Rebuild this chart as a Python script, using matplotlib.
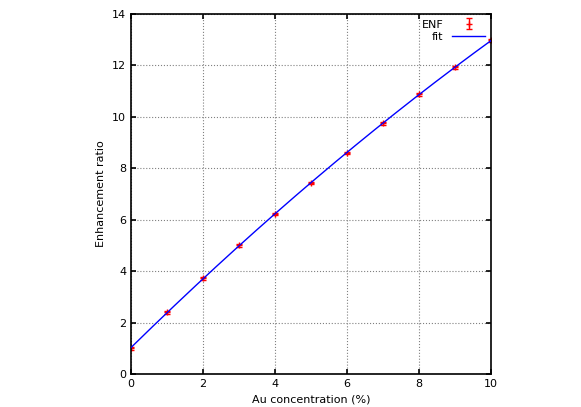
import matplotlib.pyplot as plt
import numpy as np

# Data
au_conc = [0, 1, 2, 3, 4, 5, 6, 7, 8, 9, 10]
enf = [1.0, 2.4, 3.72, 5.0, 6.23, 7.43, 8.6, 9.75, 10.87, 11.93, 12.97]
enf_err = [0.05] * 11

coef = np.polyfit(au_conc, enf, 2)
x_fit = np.linspace(0, 10, 200)

fig = plt.figure(figsize=(5.81, 4.07), dpi=100)
ax = fig.add_axes([0.2255, 0.0811, 0.6195, 0.8845])

ax.errorbar(au_conc, enf, yerr=enf_err, fmt='+', color='red', ms=5,
            capsize=2, elinewidth=1, label='ENF', zorder=2)
ax.plot(x_fit, np.polyval(coef, x_fit), color='blue', lw=1, label='fit', zorder=3)

ax.set_xlim(0, 10)
ax.set_ylim(0, 14)
ax.set_xticks(range(0, 11, 2))
ax.set_yticks(range(0, 15, 2))
ax.tick_params(direction='in', top=True, right=True, labelsize=8, width=1.2)
for s in ax.spines.values():
    s.set_linewidth(1.2)
ax.grid(True, linestyle=':', color='gray', lw=0.8)
ax.set_xlabel('Au concentration (%)', fontsize=8)
ax.set_ylabel('Enhancement ratio', fontsize=8)

handles, labels = ax.get_legend_handles_labels()
order = [labels.index('ENF'), labels.index('fit')]
ax.legend([handles[i] for i in order], [labels[i] for i in order],
          loc='upper right', frameon=False, fontsize=8, markerfirst=False,
          handlelength=3, borderaxespad=0.1, labelspacing=0.2)

fig.savefig('out.png')
